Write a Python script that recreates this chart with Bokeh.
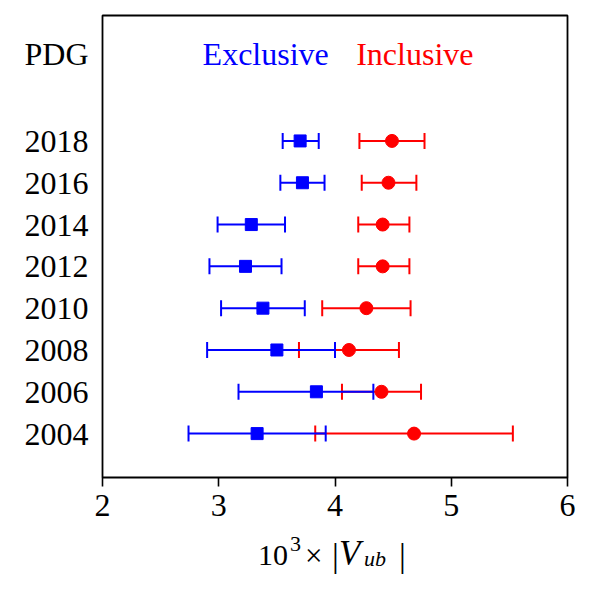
import math
from bokeh.plotting import figure
from bokeh.models import Range1d, FixedTicker, ColumnDataSource, Div
from bokeh.layouts import column
from bokeh.core.properties import value
from bokeh.embed import file_html
from bokeh.resources import INLINE

# ---- data (x 10^3 |Vub|) ----
years = ["2004", "2006", "2008", "2010", "2012", "2014", "2016", "2018"]
excl_val = [3.33, 3.84, 3.50, 3.38, 3.23, 3.28, 3.72, 3.70]
excl_lo = [2.74, 3.17, 2.90, 3.02, 2.92, 2.99, 3.53, 3.55]
excl_hi = [3.92, 4.33, 4.00, 3.74, 3.54, 3.57, 3.91, 3.86]
incl_val = [4.68, 4.40, 4.12, 4.27, 4.41, 4.41, 4.46, 4.49]
incl_lo = [3.83, 4.06, 3.69, 3.89, 4.20, 4.20, 4.23, 4.21]
incl_hi = [5.53, 4.74, 4.55, 4.65, 4.64, 4.64, 4.70, 4.77]
header_label = "PDG"
series_names = ["Exclusive", "Inclusive"]
x_ticks = [2, 3, 4, 5, 6]

BLUE = "#0000ff"
RED = "#ff0000"
FONT = "Liberation Serif"

ypos = [(int(y) - 2004) / 2 for y in years]
header_pos = ypos[-1] + 2.08

FIG_H = 535
p = figure(width=593, height=FIG_H, output_backend="svg", toolbar_location=None,
           x_range=Range1d(2, 6), y_range=Range1d(-1.05, 10),
           min_border_left=102, min_border_right=26, min_border_top=15,
           min_border_bottom=FIG_H - 477)
p.background_fill_color = "white"
p.border_fill_color = "white"
p.xgrid.visible = False
p.ygrid.visible = False
p.outline_line_color = "black"
p.outline_line_width = 1.8

# x axis
p.xaxis.ticker = FixedTicker(ticks=x_ticks)
p.xaxis.axis_line_color = None
p.xaxis.major_tick_line_color = "black"
p.xaxis.major_tick_line_width = 1.6
p.xaxis.major_tick_in = 0
p.xaxis.major_tick_out = 9
p.xaxis.minor_tick_line_color = None
p.xaxis.major_label_text_font = FONT
p.xaxis.major_label_text_font_size = "32px"
p.xaxis.major_label_text_color = "black"
p.xaxis.major_label_standoff = 8

# y axis
ticks = ypos + [header_pos]
p.yaxis.ticker = FixedTicker(ticks=ticks)
overrides = {t: y for t, y in zip(ypos, years)}
overrides[header_pos] = header_label
p.yaxis.major_label_overrides = overrides
p.yaxis.axis_line_color = None
p.yaxis.major_tick_line_color = None
p.yaxis.minor_tick_line_color = None
p.yaxis.major_tick_in = 0
p.yaxis.major_tick_out = 0
p.yaxis.major_label_text_font = FONT
p.yaxis.major_label_text_font_size = "32px"
p.yaxis.major_label_text_color = "black"
p.yaxis.major_label_standoff = 14

inc = ColumnDataSource(dict(y=ypos, v=incl_val, lo=incl_lo, hi=incl_hi))
exc = ColumnDataSource(dict(y=ypos, v=excl_val, lo=excl_lo, hi=excl_hi))

for src, col in ((inc, RED), (exc, BLUE)):
    p.segment(x0="lo", y0="y", x1="hi", y1="y", source=src, line_color=col, line_width=2)
    p.dash(x="lo", y="y", source=src, size=16, angle=math.pi / 2, line_color=col, line_width=2)
    p.dash(x="hi", y="y", source=src, size=16, angle=math.pi / 2, line_color=col, line_width=2)

p.scatter(x="v", y="y", source=inc, marker="circle", size=13, fill_color=RED, line_color=RED)
p.scatter(x="v", y="y", source=exc, marker="square", size=12, fill_color=BLUE, line_color=BLUE)

# series header texts
p.text(x=[3.404], y=[header_pos], text=[series_names[0]], text_color=BLUE,
       text_font=value(FONT), text_font_size="32px", text_align="center", text_baseline="middle")
p.text(x=[4.687], y=[header_pos], text=[series_names[1]], text_color=RED,
       text_font=value(FONT), text_font_size="32px", text_align="center", text_baseline="middle")

# x-axis label: 10^3 x |V_ub|  (HTML text below the plot)
def span(left, top, txt, size, italic=False):
    st = "font-style:italic;" if italic else ""
    return (f'<span style="position:absolute;left:{left}px;top:{top}px;'
            f'font-family:\'{FONT}\';font-size:{size}px;line-height:1;{st}'
            f'color:black;white-space:nowrap">{txt}</span>')

html = ('<div style="position:relative;width:593px;height:57px">'
        + span(258, 5, "10", 30)
        + span(290, -2, "3", 22)
        + span(305, 5, "\u00d7", 31)
        + span(332, 4, "|", 34)
        + span(339, 1, "V", 35, True)
        + span(364, 13, "ub", 22, True)
        + span(399, 4, "|", 34)
        + '</div>')
div = Div(text=html, width=593, height=592 - FIG_H, margin=(0, 0, 0, 0))

layout = column(p, div, spacing=0)
open("out.html", "w").write(file_html(layout, INLINE))
